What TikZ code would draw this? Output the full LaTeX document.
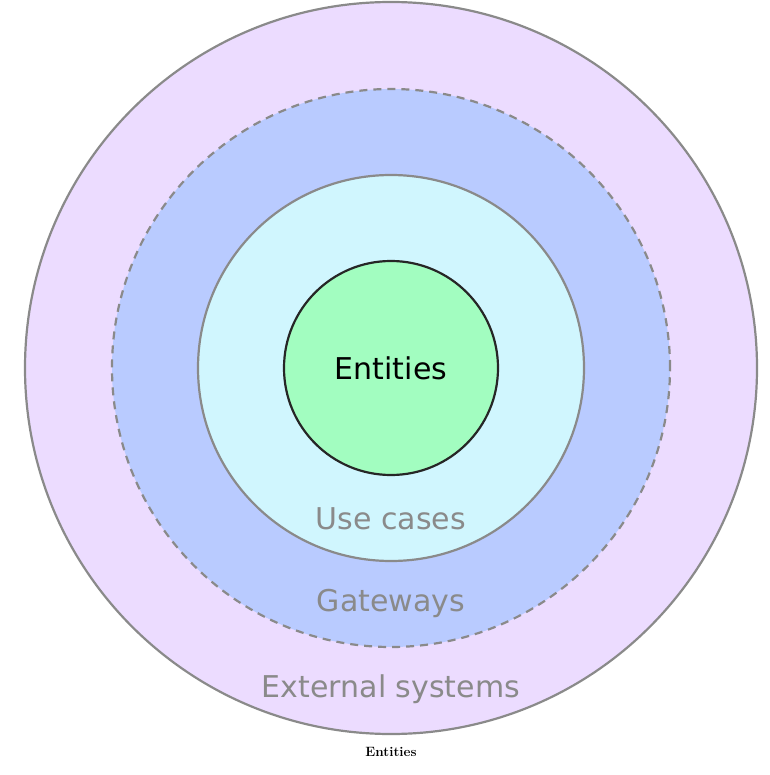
\documentclass[tikz,border=0pt]{standalone}
\usepackage{fontspec}
\newfontfamily\labelfont{DejaVu Sans}
\definecolor{extfill}{HTML}{ECDCFF}
\definecolor{gatefill}{HTML}{B9CBFF}
\definecolor{usefill}{HTML}{D0F6FE}
\definecolor{entfill}{HTML}{A2FDC0}
\definecolor{ringline}{HTML}{8A8A8A}
\tikzset{
  ring/.style={circle, inner sep=0pt, draw=ringline, line width=2.2pt},
  ringlabel/.style={font=\labelfont\fontsize{30}{32}\selectfont, text=ringline}
}
\begin{document}
\begin{tikzpicture}[x=1pt, y=-1pt]
  \useasboundingbox (0,0) rectangle (769,775);
  \coordinate (O) at (391,368);

  \node[ring, fill=extfill, minimum size=732pt] (ext) at (O) {};
  \node[ring, fill=gatefill, dashed, dash pattern=on 8pt off 6pt, minimum size=558pt] (gate) at (O) {};
  \node[ring, fill=usefill, minimum size=386pt] (use) at (O) {};
  \node[ring, fill=entfill, draw=black!85, minimum size=214pt,
        font=\labelfont\fontsize{30}{32}\selectfont] (ent) at (O) {Entities};

  \node[ringlabel] (uselabel) at (391,519) {Use cases};
  \node[ringlabel] (gatelabel) at (391,603) {Gateways};
  \node[ringlabel] (extlabel) at (391,689) {External systems};

  \node[font=\fontsize{13.5}{15}\selectfont\bfseries] (caption) at (391,752) {Entities};
\end{tikzpicture}
\end{document}
